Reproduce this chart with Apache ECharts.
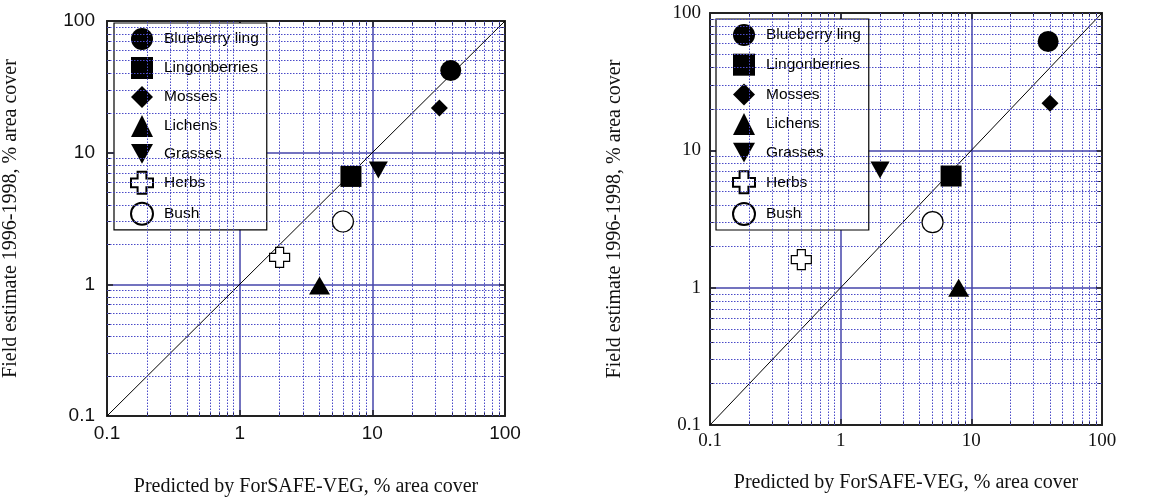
<!DOCTYPE html>
<html>
<head>
<meta charset="utf-8">
<script src="https://cdn.jsdelivr.net/npm/echarts@6/dist/echarts.min.js"></script>
<style>
  html, body { margin: 0; padding: 0; background: #fff; }
  #chart { width: 1149px; height: 502px; }
</style>
</head>
<body>
<div id="chart"></div>
<script>
// values
const speciesNames = ["Blueberry ling", "Lingonberries", "Mosses", "Lichens", "Grasses", "Herbs", "Bush"];
const leftPredicted = [39, 6.9, 32, 4.0, 11.1, 2.0, 6.0];
const leftField = [42, 6.6, 21.8, 0.98, 7.4, 1.6, 3.0];
const rightPredicted = [38.7, 7.0, 40, 8.0, 2.0, 0.5, 5.05];
const rightField = [62, 6.5, 22, 1.0, 7.2, 1.6, 3.0];
const tickLabels = ["0.1", "1", "10", "100"];
const minorValues = [0.2, 0.3, 0.4, 0.5, 0.6, 0.7, 0.8, 0.9, 2, 3, 4, 5, 6, 7, 8, 9, 20, 30, 40, 50, 60, 70, 80, 90];

const xTitle = "Predicted by ForSAFE-VEG, % area cover";
const yTitle = "Field estimate 1996-1998, % area cover";

const crossPath = "path://M3,0 L7,0 L7,3 L10,3 L10,7 L7,7 L7,10 L3,10 L3,7 L0,7 L0,3 L3,3 Z";
const downTriPath = "path://M0,0 L10,0 L5,9 Z";
const symbols = ["circle", "rect", "diamond", "triangle", downTriPath, crossPath, "circle"];
const sizes = [21, 21, [17, 17], [21, 18], [19, 17], 20, 21];
const hollow = [false, false, false, false, false, true, true];

const chart = echarts.init(document.getElementById("chart"));

function mainAxis(pos, gridIndex, font, size, margin, name, nameGap) {
  return {
    type: "log",
    logBase: 10,
    min: 0.1,
    max: 100,
    gridIndex: gridIndex,
    position: pos,
    name: name,
    nameLocation: "middle",
    nameGap: nameGap,
    nameRotate: pos === "left" ? 90 : 0,
    nameTextStyle: { fontFamily: "Liberation Serif", fontSize: 20, color: "#111" },
    axisLine: { show: true, lineStyle: { color: "#222", width: 2 } },
    axisTick: { show: true, inside: true, length: 6, lineStyle: { color: "#222", width: 1.5 } },
    minorTick: { show: true, splitNumber: 9, length: 4, lineStyle: { color: "#222", width: 1 } },
    axisLabel: {
      fontFamily: font,
      fontSize: size,
      color: "#111",
      margin: margin,
      showMinLabel: true,
      showMaxLabel: true,
      formatter: (v) => tickLabels[Math.round(Math.log10(v)) + 1],
    },
    splitLine: { show: true, lineStyle: { color: "#4444aa", width: 1.5 } },
  };
}

function frameAxis(pos, gridIndex) {
  return {
    type: "log",
    logBase: 10,
    min: 0.1,
    max: 100,
    gridIndex: gridIndex,
    position: pos,
    axisLine: { show: true, onZero: false, lineStyle: { color: "#222", width: 2 } },
    axisTick: { show: true, inside: true, length: 6, lineStyle: { color: "#222", width: 1.5 } },
    minorTick: { show: true, splitNumber: 9, length: 4, lineStyle: { color: "#222", width: 1 } },
    axisLabel: { show: false },
    splitLine: { show: false },
  };
}

function plotSeries(gridIndex, xs, ys) {
  const out = [];
  out.push({
    type: "line",
    name: "1:1",
    xAxisIndex: gridIndex,
    yAxisIndex: gridIndex,
    data: [[0.1, 0.1], [100, 100]],
    showSymbol: false,
    silent: true,
    z: 3,
    lineStyle: { color: "#000", width: 1 },
    markLine: {
      silent: true,
      symbol: ["none", "none"],
      label: { show: false },
      animation: false,
      lineStyle: { color: "#4a4ac8", width: 1, type: [1.5, 1.5], opacity: 1 },
      emphasis: { disabled: true },
      data: minorValues.map((v) => ({ xAxis: v })).concat(minorValues.map((v) => ({ yAxis: v }))),
    },
  });
  speciesNames.forEach((n, i) => {
    out.push({
      type: "scatter",
      name: n,
      xAxisIndex: gridIndex,
      yAxisIndex: gridIndex,
      symbol: symbols[i],
      symbolSize: sizes[i],
      z: 5,
      itemStyle: hollow[i]
        ? { color: "#fff", borderColor: "#000", borderWidth: 1.2, opacity: 1 }
        : { color: "#000", opacity: 1 },
      data: [[xs[i], ys[i]]],
    });
  });
  return out;
}

function legendFor(left, top, gap, size) {
  return {
    orient: "vertical",
    left: left,
    top: top,
    itemWidth: 22,
    itemHeight: 22,
    itemGap: gap,
    padding: [5, 8, 4, 16],
    backgroundColor: "#fff",
    borderColor: "#000",
    borderWidth: 1.2,
    borderRadius: 0,
    selectedMode: false,
    textStyle: { fontFamily: "Liberation Sans", fontSize: size, color: "#000", padding: [0, 0, 0, 6] },
    data: speciesNames.map((n, i) => ({ name: n, icon: symbols[i] })),
  };
}

const option = {
  backgroundColor: "#fff",
  animation: false,
  grid: [
    { left: 105, top: 21, width: 400, height: 405 },
    { left: 710, top: 13, width: 392, height: 412 },
  ],
  xAxis: [
    mainAxis("bottom", 0, "Liberation Sans", 19, 8, xTitle, 61),
    mainAxis("bottom", 1, "Liberation Serif", 19, 7, xTitle, 48),
    frameAxis("top", 0),
    frameAxis("top", 1),
  ],
  yAxis: [
    mainAxis("left", 0, "Liberation Sans", 19, 12, yTitle, 86),
    mainAxis("left", 1, "Liberation Serif", 19, 9, yTitle, 85),
    frameAxis("right", 0),
    frameAxis("right", 1),
  ],
  legend: [
    legendFor(114, 23, 7, 15.5),
    legendFor(716, 19, 7.7, 15.5),
  ],
  series: plotSeries(0, leftPredicted, leftField).concat(plotSeries(1, rightPredicted, rightField)),
};

chart.setOption(option);
</script>
</body>
</html>
